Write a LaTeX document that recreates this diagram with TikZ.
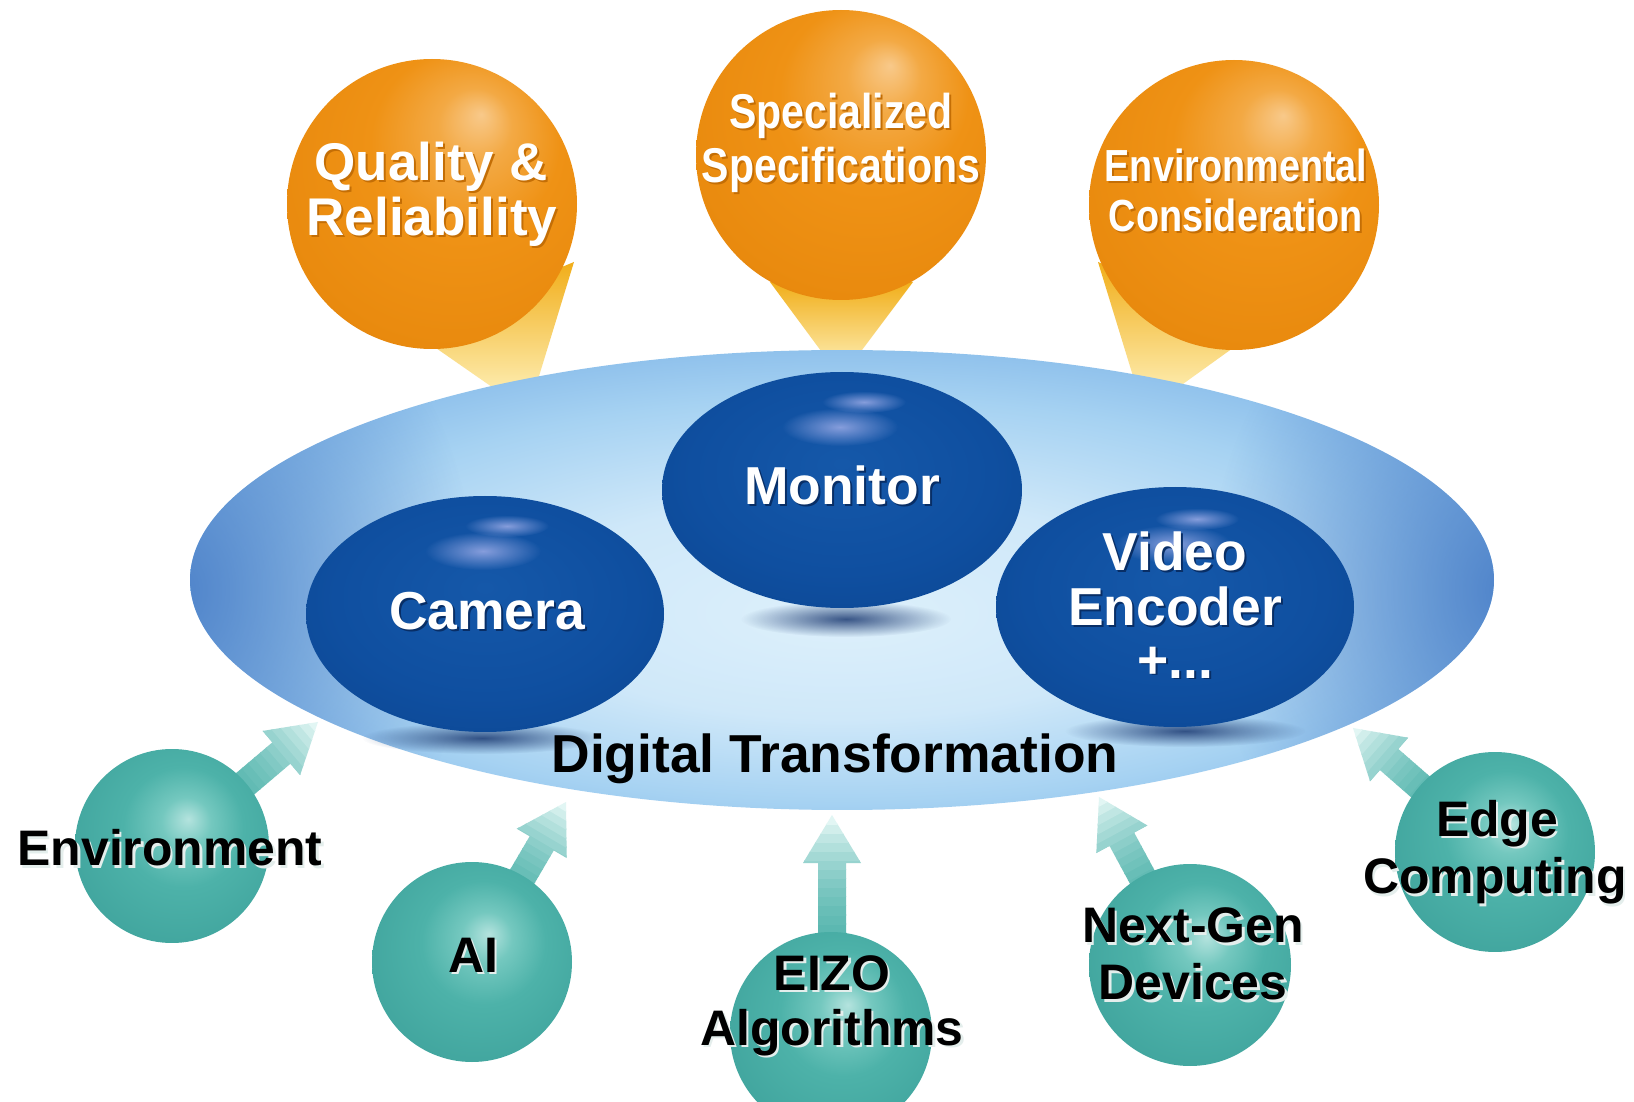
\documentclass[tikz,border=0pt]{standalone}
\usepackage{fontspec}
\setmainfont{Liberation Sans}
\newfontfamily\condfont{Liberation Sans}[FakeStretch=0.84]
\usetikzlibrary{shapes.geometric,fadings}

\definecolor{ellc}{HTML}{DDF0FB}
\definecolor{ellcb}{HTML}{CFE8F9}
\definecolor{ellm}{HTML}{A6D2F2}
\definecolor{ellmm}{HTML}{82B7E8}
\definecolor{ello}{HTML}{6A9FDC}
\definecolor{elle}{HTML}{477CC6}
\definecolor{tealhi}{HTML}{B4E3DE}
\definecolor{tealmi}{HTML}{74C8BF}
\definecolor{tealbase}{HTML}{4DB2A9}
\definecolor{tealbaseb}{HTML}{41A59E}
\definecolor{tealedge}{HTML}{2F8E89}
\definecolor{orhi}{HTML}{F8C98A}
\definecolor{ormi}{HTML}{F3A944}
\definecolor{orbase}{HTML}{EF9215}
\definecolor{orbaseb}{HTML}{E98A0E}
\definecolor{oredge}{HTML}{D6780A}
\definecolor{blA}{HTML}{1558A9}
\definecolor{blB}{HTML}{0F4FA0}
\definecolor{blC}{HTML}{0C4895}
\definecolor{blD}{HTML}{0A3F88}
\definecolor{bluehi}{HTML}{A3B0EA}
\definecolor{shadowc}{HTML}{1C3A72}
\definecolor{arrdark}{HTML}{46AEA6}
\definecolor{arrlight}{HTML}{E2F6F4}
\definecolor{conetop}{HTML}{F1AE1A}
\definecolor{conebot}{HTML}{FFF6C6}
\definecolor{blksh}{HTML}{E4EEEC}
\definecolor{orsh}{HTML}{C46E05}
\definecolor{bsh}{HTML}{082E66}

\pgfdeclareradialshading{ellshade}{\pgfpoint{0bp}{-4bp}}{color(0bp)=(ellc); color(12bp)=(ellcb); color(22bp)=(ellm); color(30bp)=(ellmm); color(35.4bp)=(ello); color(50bp)=(ello)}
\pgfdeclareradialshading{tealshade}{\pgfpoint{4.2bp}{7bp}}{color(0bp)=(tealhi); color(6.4bp)=(tealmi); color(15.5bp)=(tealbase); color(29.7bp)=(tealbaseb); color(35.4bp)=(tealedge); color(50bp)=(tealedge)}
\pgfdeclareradialshading{orshade}{\pgfpoint{8.5bp}{15.5bp}}{color(0bp)=(orhi); color(6.4bp)=(ormi); color(16.3bp)=(orbase); color(31bp)=(orbaseb); color(35.4bp)=(oredge); color(50bp)=(oredge)}
\pgfdeclareradialshading{blueshade}{\pgfpoint{0bp}{5.7bp}}{color(0bp)=(blA); color(21bp)=(blB); color(32.5bp)=(blC); color(35.4bp)=(blD); color(50bp)=(blD)}
\tikzfading[name=softblob, inner color=transparent!0, outer color=transparent!100]

\newcommand\tealarrow[4]{%
  \begin{scope}[shift={(#1,#2)}, rotate=#3]
    \clip (0,0) -- (-48,29) -- (-48,14) -- (-#4,14) -- (-#4,-14) -- (-48,-14) -- (-48,-29) -- cycle;
    \foreach \k in {0,...,23}{
      \pgfmathtruncatemacro\pc{100*(\k/23)^2.6}
      \fill[arrlight!\pc!arrdark] ({-#4+#4*\k/24-0.6},-35) rectangle ({-#4+#4*(\k+1)/24+0.6},35);
    }
  \end{scope}}
\newcommand\blbl[4]{%
  \node[blk, text=blksh] (#1s) at (#2+2.5,#3+2.5) {#4};
  \node[blk] (#1) at (#2,#3) {#4};}
\newcommand\wlbl[6]{%
  \node[#1, text=#6] (#2s) at (#3+2,#4+2) {#5};
  \node[#1] (#2) at (#3,#4) {#5};}

\begin{document}
\begin{tikzpicture}[x=0.1mm, y=-0.1mm,
  ball/.style={circle, inner sep=0pt, draw=none, shade},
  orangeball/.style={ball, shading=orshade, minimum size=29mm},
  tealball/.style={ball, shading=tealshade},
  blueball/.style={ellipse, inner sep=0pt, draw=none, shade, shading=blueshade},
  blk/.style={font=\fontsize{14.2pt}{14.2pt}\selectfont\bfseries, text=black, inner sep=0pt, anchor=base},
  wblue/.style={font=\fontsize{15.2pt}{15.2pt}\selectfont\bfseries, text=white, inner sep=0pt, anchor=base},
  wqr/.style={font=\fontsize{15.1pt}{15.1pt}\selectfont\bfseries, text=white, inner sep=0pt, anchor=base},
  wspec/.style={font={\condfont\bfseries\fontsize{13.9pt}{13.9pt}\selectfont}, text=white, inner sep=0pt, anchor=base},
  wenv/.style={font={\condfont\bfseries\fontsize{12.8pt}{12.8pt}\selectfont}, text=white, inner sep=0pt, anchor=base},
  cone/.style={top color=conetop, bottom color=conebot},
  blob/.style={path fading=softblob}
]
\fill[white] (0,0) rectangle (1634,1102);
\useasboundingbox (0,0) rectangle (1634,1102);
\clip (0,0) rectangle (1634,1102);

% light cones
\shade[cone] (410,330) -- (574,262) -- (528,412) -- cycle;
\shade[cone] (770,282) -- (913,282) -- (841,378) -- cycle;
\shade[cone] (1098,262) -- (1258,330) -- (1144,412) -- cycle;

% big ellipse
\node[ellipse, minimum width=130.4mm, minimum height=46mm, inner sep=0pt, shade, shading=ellshade] (dt) at (842,580) {};
\begin{scope}
  \clip (842,580) ellipse [x radius=652, y radius=230];
  \fill[elle, blob, opacity=.9] (175,590) ellipse [x radius=300, y radius=360];
  \fill[elle, blob, opacity=.9] (1509,590) ellipse [x radius=300, y radius=360];
\end{scope}

% shadows under blue balls
\fill[shadowc, blob, opacity=.85] (846,619) ellipse [x radius=105, y radius=18];
\fill[shadowc, blob, opacity=.85] (482,738) ellipse [x radius=120, y radius=16];
\fill[shadowc, blob, opacity=.85] (1185,731) ellipse [x radius=120, y radius=16];

% blue balls
\node[blueball, minimum width=36mm, minimum height=23.6mm] (mon) at (842,490) {};
\node[blueball, minimum width=35.8mm, minimum height=23.6mm] (cam) at (485,614) {};
\node[blueball, minimum width=35.8mm, minimum height=24mm] (ve) at (1175,607) {};
\foreach \cx/\cy in {842/490, 485/614, 1175/607}{
  \fill[bluehi, blob, opacity=.8] (\cx+22,\cy-88) ellipse [x radius=42, y radius=11];
  \fill[bluehi, blob, opacity=.8] (\cx-2,\cy-63) ellipse [x radius=58, y radius=19];
}

% orange balls
\node[orangeball] (qr) at (432,204) {};
\node[orangeball] (ss) at (841,155) {};
\node[orangeball] (ec) at (1234,205) {};

% arrows
\tealarrow{318}{722}{40.3}{191}
\tealarrow{566}{802}{59.6}{186}
\tealarrow{832}{815}{90}{218}
\tealarrow{1099}{797}{118.4}{191}
\tealarrow{1353}{728}{138.9}{188}

% teal balls
\node[tealball, minimum size=19.4mm] (env) at (172,846) {};
\node[tealball, minimum size=20mm] (ai) at (472,962) {};
\node[tealball, minimum size=20.2mm] (eizo) at (831,1033) {};
\node[tealball, minimum size=20.2mm] (ng) at (1190,965) {};
\node[tealball, minimum size=20mm] (edge) at (1495,852) {};

% texts
\wlbl{wqr}{qrA}{431}{181}{Quality \&}{orsh}
\wlbl{wqr}{qrB}{432}{236}{Reliability}{orsh}
\wlbl{wspec}{ssA}{841}{129}{Specialized}{orsh}
\wlbl{wspec}{ssB}{841}{183}{Specifications}{orsh}
\wlbl{wenv}{ecA}{1236}{182}{Environmental}{orsh}
\wlbl{wenv}{ecB}{1236}{232}{Consideration}{orsh}
\wlbl{wblue}{monL}{842}{505}{Monitor}{bsh}
\wlbl{wblue}{camL}{487}{630}{Camera}{bsh}
\wlbl{wblue}{veA}{1175}{570}{Video}{bsh}
\wlbl{wblue}{veB}{1175}{625}{Encoder}{bsh}
\wlbl{wblue}{veC}{1175}{678}{+...}{bsh}
\node[blk, font=\fontsize{15.2pt}{15.2pt}\selectfont\bfseries] (dtL) at (835,772) {Digital Transformation};
\blbl{envL}{170}{866}{Environment}
\blbl{aiL}{473}{972}{AI}
\blbl{eizoA}{832}{990}{EIZO}
\blbl{eizoB}{832}{1045}{Algorithms}
\blbl{ngA}{1193}{943}{Next-Gen}
\blbl{ngB}{1193}{1000}{Devices}
\blbl{edgeA}{1497}{836}{Edge}
\blbl{edgeB}{1495}{894}{Computing}
\end{tikzpicture}
\end{document}
